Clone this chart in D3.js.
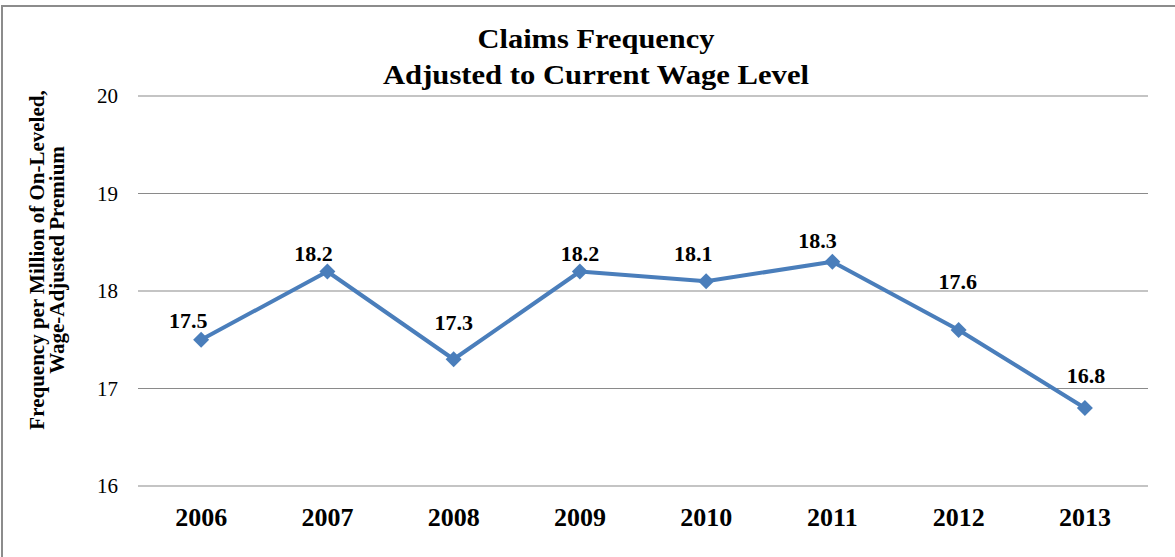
<!DOCTYPE html>
<html>
<head>
<meta charset="utf-8">
<script src="https://cdn.jsdelivr.net/npm/d3@7"></script>
<style>
  html, body { margin: 0; padding: 0; background: #fff; }
  svg { display: block; }
  text { font-family: "Liberation Serif", "Times New Roman", serif; fill: #000; }
</style>
</head>
<body>
<svg id="chart" width="1175" height="557"></svg>
<script>
// ---- data ----
const years = ["2006", "2007", "2008", "2009", "2010", "2011", "2012", "2013"];
const frequency = [17.5, 18.2, 17.3, 18.2, 18.1, 18.3, 17.6, 16.8];
const yTicks = [16, 17, 18, 19, 20];
const titleLines = ["Claims Frequency", "Adjusted to Current Wage Level"];
const yTitleLines = ["Frequency per Million of On-Leveled,", "Wage-Adjusted Premium"];
// label placement tweaks (layout, not data)
const labelDx = [-13, -14, 0, 0, -13, -15, -1, 1];
const labelDy = [-12, -11, -29, -11, -20, -14, -41, -25];
const titleWidths = [237, 426];

const W = 1175, H = 557;
const plot = { left: 138, right: 1148, top: 96, bottom: 486 };
const blue = "#4A7EBB";

const svg = d3.select("#chart");
svg.append("rect").attr("width", W).attr("height", H).attr("fill", "#fff");

// outer border (left + top)
svg.append("path")
  .attr("d", `M2,${H} V6 H${W}`)
  .attr("fill", "none").attr("stroke", "#8c8c8c").attr("stroke-width", 2);

const x = d3.scaleBand().domain(years).range([plot.left, plot.right]).padding(0);
const y = d3.scaleLinear().domain([16, 20]).range([plot.bottom, plot.top]);
const cx = d => x(d) + x.bandwidth() / 2;

// gridlines
svg.append("g").selectAll("line").data(yTicks).join("line")
  .attr("x1", plot.left).attr("x2", plot.right)
  .attr("y1", d => y(d)).attr("y2", d => y(d))
  .attr("stroke", "#8a8a8a").attr("stroke-width", 1.2);

// y axis labels
const yAxis = d3.axisLeft(y).tickValues(yTicks).tickSize(0).tickPadding(20).tickFormat(d3.format("d"));
const gy = svg.append("g").attr("transform", `translate(${plot.left},0)`).call(yAxis);
gy.select(".domain").remove();
gy.selectAll("text")
  .attr("font-family", "Liberation Serif, serif")
  .attr("font-size", 21).attr("fill", "#000");

// x axis labels
const xAxis = d3.axisBottom(x).tickSize(0).tickPadding(22);
const gx = svg.append("g").attr("transform", `translate(0,${plot.bottom})`).call(xAxis);
gx.select(".domain").remove();
gx.selectAll("text")
  .attr("font-family", "Liberation Serif, serif")
  .attr("font-size", 26).attr("font-weight", "bold").attr("fill", "#000");

// line
const pts = years.map((yr, i) => ({ yr, v: frequency[i], i }));
svg.append("path")
  .datum(pts)
  .attr("fill", "none").attr("stroke", blue).attr("stroke-width", 4)
  .attr("stroke-linejoin", "round")
  .attr("d", d3.line().x(d => cx(d.yr)).y(d => y(d.v)));

// markers
svg.append("g").selectAll("path").data(pts).join("path")
  .attr("transform", d => `translate(${cx(d.yr)},${y(d.v)})`)
  .attr("d", "M0,-8 L8,0 L0,8 L-8,0 Z")
  .attr("fill", blue);

// data labels
svg.append("g").selectAll("text").data(pts).join("text")
  .attr("x", d => cx(d.yr) + labelDx[d.i])
  .attr("y", d => y(d.v) + labelDy[d.i])
  .attr("text-anchor", "middle")
  .attr("font-size", 22).attr("font-weight", "bold")
  .text(d => d3.format(".1f")(d.v));

// title
svg.append("g").selectAll("text").data(titleLines).join("text")
  .attr("text-anchor", "middle")
  .attr("font-size", 28).attr("font-weight", "bold")
  .attr("x", 596).attr("y", (d, i) => 48 + i * 36)
  .attr("textLength", (d, i) => titleWidths[i])
  .attr("lengthAdjust", "spacingAndGlyphs")
  .text(d => d);

// y axis title
const yt = svg.append("text").attr("text-anchor", "middle")
  .attr("transform", "translate(44,260) rotate(-90)")
  .attr("font-size", 21).attr("font-weight", "bold");
yt.selectAll("tspan").data(yTitleLines).join("tspan")
  .attr("x", 0).attr("dy", (d, i) => i === 0 ? 0 : 20)
  .text(d => d);
</script>
</body>
</html>
